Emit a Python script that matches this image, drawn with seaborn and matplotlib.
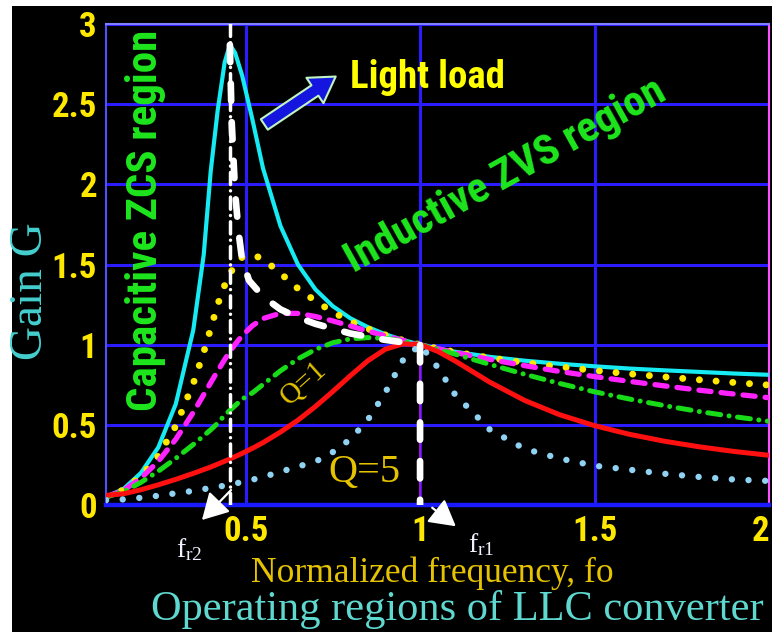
import matplotlib
matplotlib.use("Agg")
import matplotlib.pyplot as plt
from matplotlib import font_manager
from matplotlib.font_manager import FontProperties
from matplotlib.patches import Rectangle
import pandas as pd
import seaborn as sns

# ---------------- data ----------------
freq = [0.10, 0.15, 0.20, 0.25, 0.30, 0.35, 0.38, 0.40, 0.42, 0.44, 0.455, 0.47,
        0.49, 0.52, 0.55, 0.60, 0.65, 0.70, 0.75, 0.80, 0.85, 0.90, 0.95, 1.00,
        1.05, 1.10, 1.20, 1.30, 1.40, 1.50, 1.60, 1.70, 1.80, 1.90, 2.00]

gain_light = [0.05, 0.10, 0.20, 0.36, 0.63, 1.09, 1.56, 2.08, 2.46, 2.76, 2.87, 2.82,
              2.68, 2.40, 2.10, 1.74, 1.50, 1.345, 1.24, 1.165, 1.11, 1.065, 1.03, 1.00,
              0.976, 0.956, 0.924, 0.900, 0.881, 0.865, 0.851, 0.840, 0.830, 0.820, 0.812]
gain_yellow = [0.05, 0.094, 0.179, 0.307, 0.493, 0.757, 0.953, 1.10, 1.25, 1.37, 1.44, 1.50,
               1.545, 1.56, 1.535, 1.445, 1.35, 1.273, 1.203, 1.146, 1.099, 1.061, 1.028, 1.00,
               0.976, 0.954, 0.918, 0.888, 0.862, 0.839, 0.818, 0.799, 0.781, 0.764, 0.748]
gain_magenta = [0.05, 0.091, 0.167, 0.273, 0.410, 0.577, 0.688, 0.763, 0.836, 0.907, 0.956, 1.002,
                1.056, 1.119, 1.163, 1.196, 1.195, 1.176, 1.148, 1.117, 1.085, 1.055, 1.027, 1.00,
                0.975, 0.951, 0.908, 0.869, 0.833, 0.801, 0.771, 0.743, 0.716, 0.692, 0.669]
gain_green = [0.05, 0.082, 0.141, 0.211, 0.291, 0.377, 0.432, 0.469, 0.51, 0.56, 0.59, 0.62,
              0.66, 0.70, 0.752, 0.837, 0.911, 0.970, 1.012, 1.036, 1.044, 1.039, 1.023, 1.00,
              0.972, 0.941, 0.877, 0.815, 0.758, 0.706, 0.661, 0.620, 0.583, 0.551, 0.522]
gain_red = [0.06, 0.070, 0.095, 0.126, 0.160, 0.197, 0.221, 0.237, 0.255, 0.273, 0.287, 0.302,
            0.322, 0.354, 0.389, 0.455, 0.529, 0.614, 0.708, 0.806, 0.899, 0.971, 1.005, 1.00,
            0.959, 0.899, 0.766, 0.652, 0.563, 0.495, 0.441, 0.398, 0.363, 0.334, 0.310]
gain_q5 = [0.03, 0.035, 0.045, 0.058, 0.073, 0.088, 0.099, 0.106, 0.113, 0.121, 0.128, 0.134,
           0.143, 0.158, 0.175, 0.207, 0.240, 0.27, 0.33, 0.41, 0.53, 0.70, 0.90, 1.00,
           0.86, 0.69, 0.47, 0.35, 0.29, 0.245, 0.220, 0.195, 0.175, 0.159, 0.150]

boundary_freq = [0.455, 0.46, 0.47, 0.48, 0.49, 0.51, 0.55, 0.60, 0.65, 0.70, 0.80, 0.90, 1.00, 1.00]
boundary_gain = [2.87, 2.40, 1.95, 1.70, 1.53, 1.40, 1.30, 1.22, 1.17, 1.13, 1.07, 1.03, 1.00, 0.00]

fr2 = 0.455
fr1 = 1.0

x_ticks = [0.5, 1.0, 1.5, 2.0]
x_tick_labels = ["0.5", "1", "1.5", "2"]
y_ticks = [0, 0.5, 1.0, 1.5, 2.0, 2.5, 3.0]
y_tick_labels = ["0", "0.5", "1", "1.5", "2", "2.5", "3"]

# ---------------- fonts ----------------
def find_condensed_bold():
    files = [f.fname for f in font_manager.fontManager.ttflist]
    prefs = ["LiberationSansNarrow-Bold.", "NotoSans-CondensedExtraBold.", "NotoSans-CondensedBold.",
             "RobotoCondensed-Bold.", "OpenSans-CondensedBold.", "DejaVuSansCondensed-Bold."]
    for p in prefs:
        for fn in files:
            if p.lower() in fn.lower().replace("\\", "/").split("/")[-1].lower():
                return fn
    for fn in files:
        base = fn.replace("\\", "/").split("/")[-1].lower()
        if ("condensed" in base or "narrow" in base) and "bold" in base and "italic" not in base:
            return fn
    return None

cond_file = find_condensed_bold()
if cond_file:
    def bold_font(size):
        return FontProperties(fname=cond_file, size=size)
    nscale = 1.0
else:
    def bold_font(size):
        return FontProperties(family="Liberation Sans", weight="bold", size=size)
    nscale = 0.84
SERIF = "Liberation Serif"
plt.rcParams["mathtext.fontset"] = "stix"

W, H = 772, 632
fig = plt.figure(figsize=(W / 100, H / 100), dpi=100, facecolor="white")
fig.patches.append(Rectangle((12 / W, 0), 1 - 12 / W, 1 - 6 / H, transform=fig.transFigure,
                             facecolor="black", edgecolor="none", zorder=-10))

ax = fig.add_axes([106 / W, 1 - 505 / H, (769 - 106) / W, (505 - 24) / H])
ax.set_facecolor("black")

# ---------------- curves ----------------
curves = {
    "light": (gain_light, dict(color="#16eaf2", lw=3.0, linestyle="-", solid_capstyle="round")),
    "yellow": (gain_yellow, dict(color="#ffe800", lw=5.0, linestyle=(0, (0.01, 2.4)), dash_capstyle="round")),
    "magenta": (gain_magenta, dict(color="#ff22ff", lw=3.8, linestyle=(0, (2.3, 1.9)), dash_capstyle="round")),
    "green": (gain_green, dict(color="#18dc18", lw=3.6, linestyle=(0, (2.6, 1.7, 0.01, 1.7)), dash_capstyle="round")),
    "red": (gain_red, dict(color="#ff1010", lw=3.6, linestyle="-", solid_capstyle="round")),
    "q5": (gain_q5, dict(color="#90d2f2", lw=4.6, linestyle=(0, (0.01, 2.6)), dash_capstyle="round")),
}
rows = []
for name, (vals, _) in curves.items():
    for f, g in zip(freq, vals):
        rows.append({"freq": f, "gain": g, "curve": name})
df = pd.DataFrame(rows)

z = 5
for name, (_, style) in curves.items():
    sns.lineplot(data=df[df["curve"] == name], x="freq", y="gain", ax=ax,
                 estimator=None, sort=False, legend=False, zorder=z, **style)
    z += 0.1

ax.vlines(fr1, 0, 1, color="#c010c0", lw=1.2, zorder=4)
ax.axvline(fr2, color="white", lw=2.5, linestyle=(0, (3.5, 1.8, 0.01, 1.8)),
           dash_capstyle="round", zorder=7)
bdf = pd.DataFrame({"freq": boundary_freq, "gain": boundary_gain})
sns.lineplot(data=bdf, x="freq", y="gain", ax=ax, estimator=None, sort=False, legend=False,
             color="white", lw=4.8, linestyle=(0, (2.6, 3.2)), dash_capstyle="round", zorder=8)

# ---------------- axes styling ----------------
ax.set_xlim(0.1, 2.0)
ax.set_ylim(0, 3)
ax.set_xticks(x_ticks)
ax.set_xticklabels(x_tick_labels)
ax.set_yticks(y_ticks)
ax.set_yticklabels(y_tick_labels)
ax.set_xlabel("")
ax.set_ylabel("")
ax.grid(True, color="#2b1bff", lw=2.2, zorder=1)
ax.set_axisbelow(True)
ax.tick_params(length=0, colors="#ffe800")
ax.tick_params(axis="x", pad=7)
ax.tick_params(axis="y", pad=6.5)
for lab in ax.get_xticklabels() + ax.get_yticklabels():
    lab.set_fontproperties(bold_font(25 * nscale))
    lab.set_color("#ffe800")
xl = ax.get_xticklabels()
xl[-1].set_horizontalalignment("right")
ax.spines["bottom"].set_color("#1a1aff")
ax.spines["bottom"].set_linewidth(3.2)
ax.spines["left"].set_color("#5050ff")
ax.spines["left"].set_linewidth(1.5)
ax.spines["top"].set_color("#8080ff")
ax.spines["top"].set_linewidth(1.5)
ax.spines["right"].set_color("#ff50ff")
ax.spines["right"].set_linewidth(1.5)

# ---------------- texts ----------------
def fx(px):
    return px / W

def fy(py):
    return 1 - py / H

fig.text(fx(31), fy(291), "Gain G", rotation=90, color="#45cfcf", fontsize=34,
         family=SERIF, ha="center", va="center")
fig.text(fx(432), fy(582), "Normalized frequency, fo", color="#e6c300", fontsize=25.5,
         family=SERIF, ha="center", va="baseline")
fig.text(fx(457), fy(620), "Operating regions of LLC converter", color="#5fd8d0",
         fontsize=30.5, family=SERIF, ha="center", va="baseline")
fig.text(fx(189), fy(550), r"$\mathregular{f_{r2}}$", color="#f0f0ff", fontsize=20,
         family=SERIF, ha="center", va="center")
fig.text(fx(481), fy(545), r"$\mathregular{f_{r1}}$", color="#f0f0ff", fontsize=20,
         family=SERIF, ha="center", va="center")
fig.text(fx(350), fy(88), "Light load", color="#ffff00", fontproperties=bold_font(28 * nscale),
         ha="left", va="baseline")
fig.text(fx(146), fy(220), "Capacitive ZCS region", rotation=90, color="#1ee61e",
         fontproperties=bold_font(31 * nscale), ha="center", va="center",
         rotation_mode="anchor")
fig.text(fx(505), fy(176), "Inductive ZVS region", rotation=29, color="#1ee61e",
         fontproperties=bold_font(31 * nscale), ha="center", va="center",
         rotation_mode="anchor")
fig.text(fx(364), fy(473), "Q=5", color="#e6c300", fontsize=29, family=SERIF,
         ha="center", va="center")
fig.text(fx(303), fy(383), "Q=1", color="#e6c300", fontsize=21, family=SERIF,
         ha="center", va="center", rotation=42, rotation_mode="anchor")

# ---------------- arrows ----------------
ax.annotate("", xy=(200, H - 522), xytext=(233, H - 488), xycoords="figure pixels",
            textcoords="figure pixels", annotation_clip=False,
            arrowprops=dict(arrowstyle="-|>,head_length=0.8,head_width=0.45", color="white",
                            lw=1.6, mutation_scale=20))
ax.annotate("", xy=(458, H - 528), xytext=(430, H - 506), xycoords="figure pixels",
            textcoords="figure pixels", annotation_clip=False,
            arrowprops=dict(arrowstyle="-|>,head_length=0.8,head_width=0.45", color="white",
                            lw=1.6, mutation_scale=20))
ax.annotate("", xy=(338, H - 75), xytext=(262, H - 126), xycoords="figure pixels",
            textcoords="figure pixels", annotation_clip=False,
            arrowprops=dict(arrowstyle="simple,head_length=0.9,head_width=1.1,tail_width=0.45",
                            fc="#1515e0", ec="#c0f5c0", lw=1.5, mutation_scale=20))

fig.savefig("out.png", dpi=100, facecolor=fig.get_facecolor())
